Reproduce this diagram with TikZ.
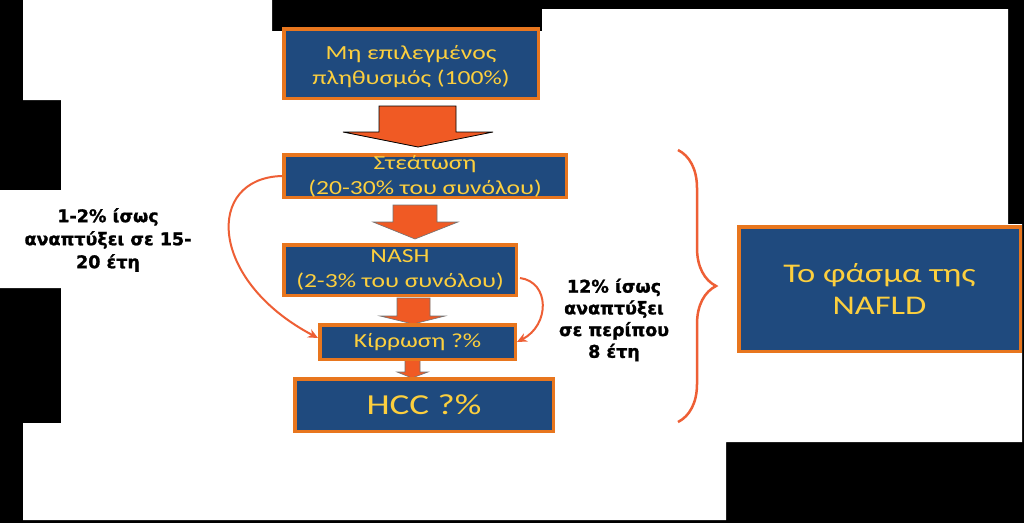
\documentclass[tikz,border=0pt]{standalone}
\usepackage{fontspec}
\setmainfont{Carlito}[FakeStretch=1.28]
\newfontfamily\lblfont{DejaVu Sans}[BoldFeatures={FakeBold=1.3}]
\usetikzlibrary{decorations.pathreplacing,arrows.meta}
\definecolor{boxblue}{HTML}{1F4A7E}
\definecolor{boxorange}{HTML}{E8761E}
\definecolor{txtyellow}{HTML}{FCCF3E}
\definecolor{arroworange}{HTML}{F05A24}
\definecolor{curveorange}{HTML}{EE5F35}
\begin{document}
\begin{tikzpicture}[x=1pt,y=-1pt,
  stagebox/.style={draw=boxorange, line width=3.5pt, fill=boxblue, text=txtyellow, align=center, inner sep=0pt, font=\fontsize{20}{25}\selectfont},
  blockarrow/.style={fill=arroworange, draw=black, line width=0.8pt, line join=miter},
  smallarrow/.style={fill=arroworange, draw=black!55, line width=0.6pt, line join=miter},
  bendline/.style={draw=curveorange, line width=2pt, -{Stealth[length=10pt,width=9pt]}},
  note/.style={align=center, text=black, font=\lblfont\bfseries\fontsize{17.5}{23}\selectfont}
]
\fill[black] (0,0) rectangle (1024,523);
\fill[white] (23,0) -- (272,0) -- (272,31) -- (542,31) -- (542,9) -- (1008,9) -- (1008,224) -- (1022,224) -- (1022,442) -- (726,442) -- (726,520) -- (23,520) -- (23,423) -- (61,423) -- (61,288) -- (0,288) -- (0,190) -- (61,190) -- (61,100) -- (23,100) -- cycle;
\useasboundingbox (0,0) rectangle (1024,523);

% block arrows
\draw[blockarrow] (379,106) -- (456,106) -- (456,132) -- (493,132) -- (418,147) -- (343,132) -- (379,132) -- cycle;
\draw[smallarrow] (393,205) -- (437,205) -- (437,222) -- (458,222) -- (415,239) -- (373,222) -- (393,222) -- cycle;
\draw[smallarrow] (397,298) -- (430,298) -- (430,316) -- (445,316) -- (413,324) -- (380,316) -- (397,316) -- cycle;
\draw[smallarrow] (405,360) -- (420,360) -- (420,372) -- (428,372) -- (412,378) -- (397,372) -- (405,372) -- cycle;

% boxes
\node[stagebox, minimum width=254.5pt, minimum height=69.5pt] (b1) at (411,63.5) {\raisebox{-3.5pt}[\height][\depth]{\begin{tabular}{@{}c@{}}Μη επιλεγμένος\\πληθυσμός (100\%)\end{tabular}}};
\node[stagebox, minimum width=282.5pt, minimum height=42.5pt] (b2) at (425,176) {Στεάτωση\\(20-30\% του συνόλου)};
\node[stagebox, minimum width=232.5pt, minimum height=50.5pt] (b3) at (400,270) {NASH\\(2-3\% του συνόλου)};
\node[stagebox, minimum width=195.5pt, minimum height=34.5pt] (b4) at (417.5,342) {Κίρρωση ?\%};
\node[stagebox, minimum width=258.5pt, minimum height=52.5pt, font=\fontsize{29}{34}\selectfont] (b5) at (424,405) {HCC ?\%};
\node[stagebox, minimum width=281.5pt, minimum height=124.5pt, font=\fontsize{27}{32}\selectfont] (b6) at (879.5,289) {Το φάσμα της\\NAFLD};

% curved connectors
\draw[bendline] (b2.west) .. controls (205,178) and (208,280) .. ([yshift=4pt]b4.west);
\draw[bendline] ([xshift=2pt,yshift=-8pt]b3.east) .. controls (550,282) and (550,325) .. (b4.east);

% brace
\coordinate (bt) at (678,150);
\coordinate (bb) at (678,422);
\draw[curveorange, line width=2.5pt, decorate, decoration={brace, amplitude=38pt}] (bt) -- (bb);

% notes
\node[note] (n1) at (108,240) {1-2\% ίσως\\αναπτύξει σε 15-\\20 έτη};
\node[note, font=\lblfont\bfseries\fontsize{17.5}{21.7}\selectfont] (n2) at (614,320) {12\% ίσως\\αναπτύξει\\σε περίπου\\8 έτη};
\end{tikzpicture}
\end{document}
